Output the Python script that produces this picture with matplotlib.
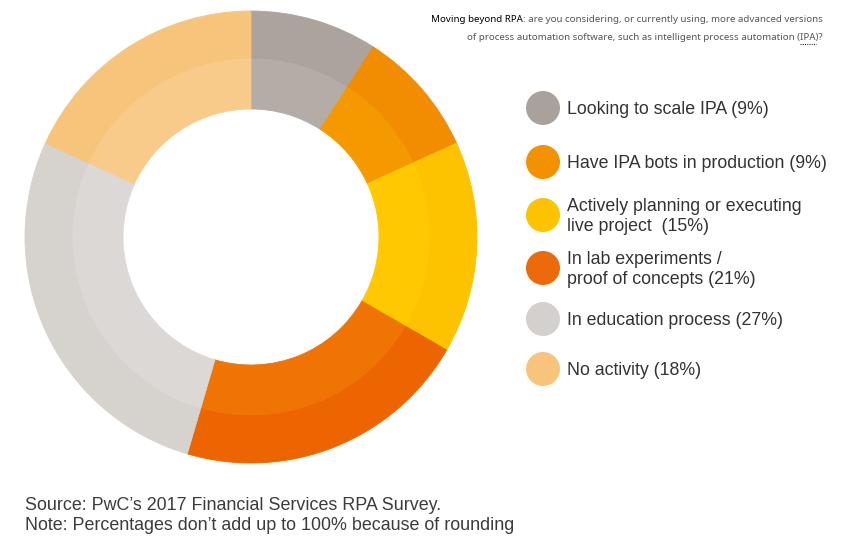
import matplotlib
matplotlib.use('Agg')
import matplotlib.pyplot as plt
from matplotlib.patches import Circle

plt.rcParams['font.family'] = ['Liberation Sans', 'DejaVu Sans']

# data
labels = ['Looking to scale IPA (9%)',
          'Have IPA bots in production (9%)',
          'Actively planning or executing\nlive project  (15%)',
          'In lab experiments /\nproof of concepts (21%)',
          'In education process (27%)',
          'No activity (18%)']
shares = [9, 9, 15, 21, 27, 18]
outer_colors = ['#aca39c', '#f28c00', '#fdc300', '#ed6500', '#d6d2ce', '#f7c47b']
inner_colors = ['#b4aca6', '#f49a00', '#ffc800', '#ef7403', '#dcd8d5', '#f8cb8a']
legend_colors = ['#aaa19b', '#f39200', '#fdc300', '#eb6a0a', '#d4d0cc', '#f8c47c']
legend_y = [108, 162, 215, 268, 319, 369]

W, H = 841, 539
fig = plt.figure(figsize=(W / 100, H / 100), dpi=100)

# donut: centre (251, 237) px, outer radius 226 px
cx, cy, R = 251, 237, 226
ax = fig.add_axes([(cx - R) / W, (H - cy - R) / H, 2 * R / W, 2 * R / H])
r_mid = 178 / R
r_in = 128 / R
outer, _ = ax.pie(shares, radius=1, colors=outer_colors, startangle=90, counterclock=False,
                  wedgeprops=dict(width=1 - r_mid, linewidth=0.6))
inner, _ = ax.pie(shares, radius=r_mid, colors=inner_colors, startangle=90, counterclock=False,
                  wedgeprops=dict(width=r_mid - r_in, linewidth=0.6))
for w in outer + inner:
    w.set_edgecolor(w.get_facecolor())
ax.set_xlim(-1, 1)
ax.set_ylim(-1, 1)
ax.set_aspect('equal')
ax.axis('off')

# overlay axes in pixel coordinates for legend and texts
ov = fig.add_axes([0, 0, 1, 1])
ov.set_xlim(0, W)
ov.set_ylim(H, 0)
ov.axis('off')

for lab, col, y in zip(labels, legend_colors, legend_y):
    ov.add_patch(Circle((543, y), 17, color=col, lw=0))
    ov.text(567, y + 1.5, lab, fontsize=12.8, color='#333333', va='center', ha='left',
            linespacing=1.17)

ov.text(25, 505, "Source: PwC\u2019s 2017 Financial Services RPA Survey.",
        fontsize=12.9, color='#3c3c3c', va='center')
ov.text(25, 526, "Note: Percentages don\u2019t add up to 100% because of rounding",
        fontsize=12.9, color='#3c3c3c', va='center')

# question at the top right
tfont = ['Noto Sans', 'DejaVu Sans']
tsize = 7.0
x_right = 823
fig.canvas.draw()
renderer = fig.canvas.get_renderer()


def text_width(s, **kw):
    t = ov.text(0, 0, s, fontsize=tsize, family=tfont, **kw)
    w = t.get_window_extent(renderer).width
    t.remove()
    return w


line1_bold = 'Moving beyond RPA'
line1_rest = ': are you considering, or currently using, more advanced versions'
line2 = 'of process automation software, such as intelligent process automation (IPA)?'
w_bold = text_width(line1_bold, fontweight='bold')
w_rest = text_width(line1_rest)
x0 = x_right - w_bold - w_rest
ov.text(x0, 19, line1_bold, fontsize=tsize, family=tfont, fontweight='bold',
        color='#000000', va='center')
ov.text(x0 + w_bold, 19, line1_rest, fontsize=tsize, family=tfont,
        color='#555555', va='center')
ov.text(x_right, 37, line2, fontsize=tsize, family=tfont, color='#555555',
        va='center', ha='right')
u0 = x_right - text_width('IPA)?')
u1 = x_right - text_width(')?')
ov.plot([u0, u1], [44, 44], color='#333333', lw=0.8, ls=(0, (1, 1)))

fig.savefig('out.png', dpi=100)
